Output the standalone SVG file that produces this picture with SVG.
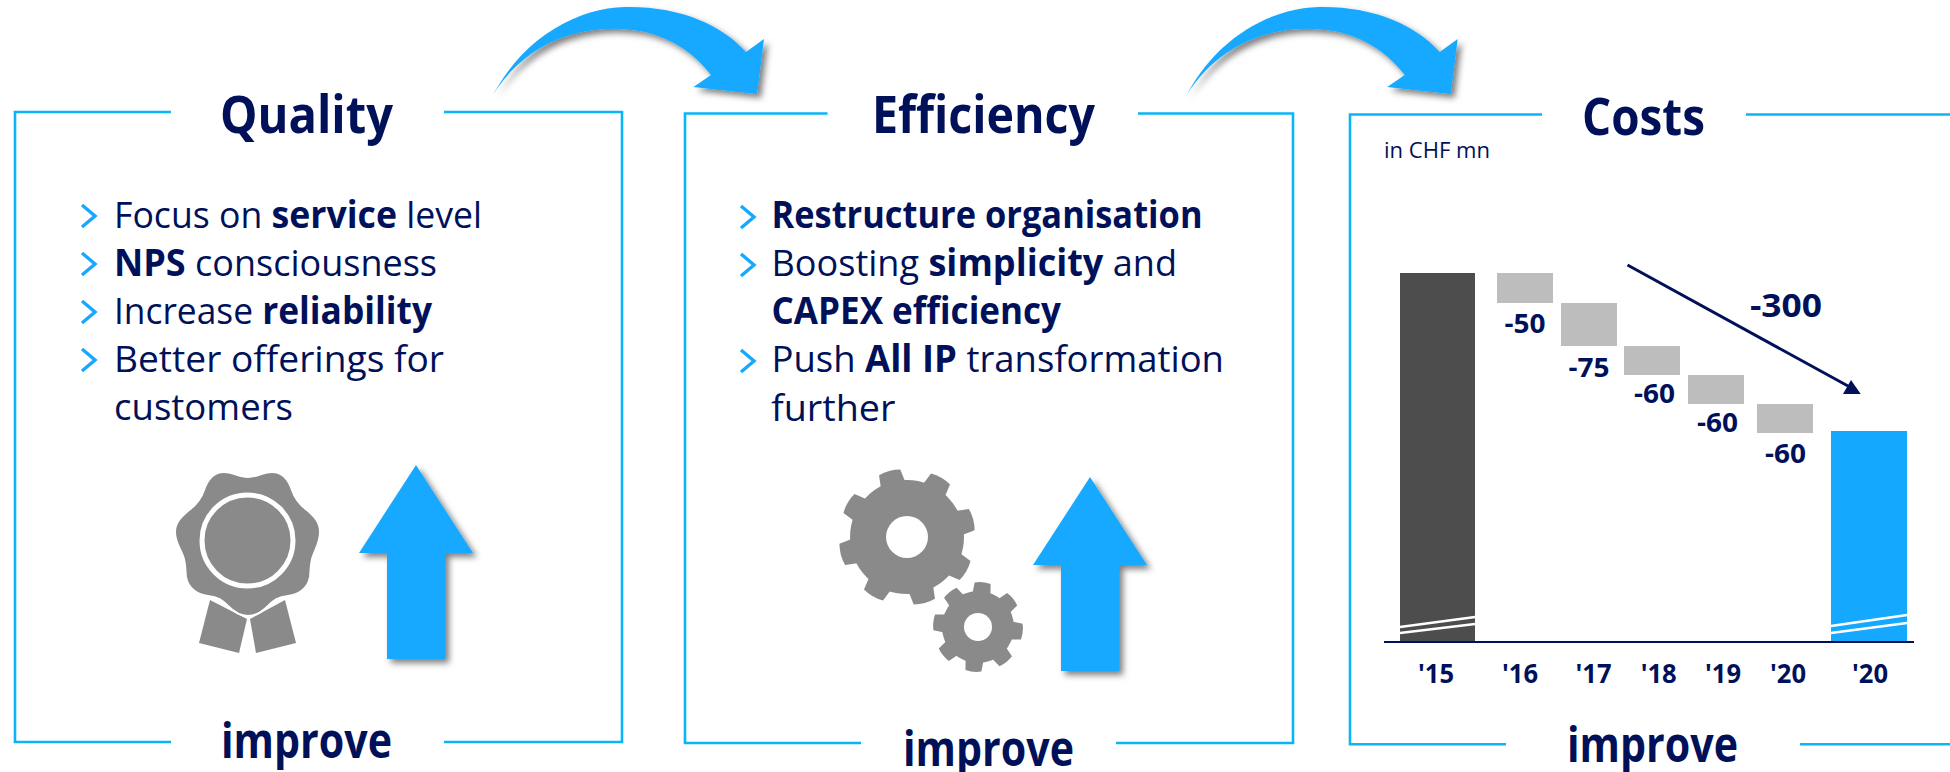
<svg xmlns="http://www.w3.org/2000/svg" width="1950" height="772" viewBox="0 0 1950 772">
<style>
text{font-family:"Open Sans","Noto Sans","Liberation Sans",sans-serif;fill:#00115a}
.t{font-size:52px;font-weight:700}
.i{font-size:48px;font-weight:700}
.b{font-size:37px}
.b tspan{font-weight:700}
.v{font-size:26.500px;font-weight:700;text-anchor:middle}
.f{fill:none;stroke:#08b5f6;stroke-width:2.600}
.c{fill:none;stroke:#16a9ff;stroke-width:3.400}
.g{fill:#8a8a8a}
.w{fill:#bdbdbd}
.k{stroke:#fff;stroke-width:2.600;fill:none}
.u{fill:#19a9ff;filter:url(#s)}
</style>
<defs>
<filter id="s" x="-20%" y="-20%" width="150%" height="150%"><feDropShadow dx="4" dy="4" stdDeviation="3" flood-color="#000" flood-opacity="0.5"/></filter>
<path id="ch" d="M0 0L13 11L0 22"/>
<path id="curve" d="M493 95C525 35 580 8 625 7C680 6 722 25 746 52L764 39L757 94L693.500 87L711 75C690 48 660 30 620 29C570 27 522 48 493 95Z"/>
<path id="up" d="M57 0L114 88H86V194H28V88H0Z"/>
<path id="t1" d="M-13-50L-11-67Q0-70 11-67L13-50Z"/>
<path id="t2" d="M-9-33L-8-44Q0-46 8-44L9-33Z"/>
</defs>
<g id="connectors">
<use href="#curve" fill="#14a9ff" filter="url(#s)"/>
<use href="#curve" x="693.700" fill="#14a9ff" filter="url(#s)"/>
</g>
<g id="quality">
<path class="f" d="M171 112H15V742H171M444 112H622V742H444"/>
<text class="t" x="220" y="133" textLength="173" lengthAdjust="spacingAndGlyphs">Quality</text>
<use class="c" href="#ch" x="82" y="205"/><use class="c" href="#ch" x="82" y="253"/><use class="c" href="#ch" x="82" y="301"/><use class="c" href="#ch" x="82" y="349"/>
<text class="b" x="114" y="228" textLength="368" lengthAdjust="spacingAndGlyphs">Focus on <tspan>service</tspan> level</text>
<text class="b" x="114" y="276" textLength="323" lengthAdjust="spacingAndGlyphs"><tspan>NPS</tspan> consciousness</text>
<text class="b" x="114" y="324" textLength="318" lengthAdjust="spacingAndGlyphs">Increase <tspan>reliability</tspan></text>
<text class="b" x="114" y="372" textLength="330" lengthAdjust="spacingAndGlyphs">Better offerings for</text>
<text class="b" x="114" y="420" textLength="179" lengthAdjust="spacingAndGlyphs">customers</text>
<g class="g">
<path d="M210 600L199 643L239 653L247 619Z"/><path d="M285 600L296 643L256 653L250 619Z"/>
<path stroke="#fff" stroke-width="2" d="M248 477C258 477 263 472 272 472C283 472 289 481 292 490C295 499 300 505 307 510C314 516 320 522 320 532C320 542 316 548 313 556C310 564 311 570 310 577C308 589 298 595 288 596C278 597 274 600 268 606C262 612 256 616 248 616C240 616 234 612 228 606C222 600 218 597 208 596C198 595 188 589 186 577C185 570 186 564 183 556C180 548 175 542 175 532C175 522 182 516 189 510C196 505 201 499 204 490C207 481 213 472 224 472C233 472 238 477 248 477Z"/>
<circle cx="247.500" cy="540.500" r="45.500" fill="none" stroke="#fff" stroke-width="5"/>
</g>
<use class="u" href="#up" x="359" y="465"/>
<text class="i" x="221" y="758" textLength="171" lengthAdjust="spacingAndGlyphs">improve</text>
</g>
<g id="efficiency">
<path class="f" d="M827.500 113.500H685V743H861M1138 113.500H1293V743H1116"/>
<text class="t" x="872" y="133" textLength="223" lengthAdjust="spacingAndGlyphs">Efficiency</text>
<use class="c" href="#ch" x="741" y="206"/><use class="c" href="#ch" x="741" y="254"/><use class="c" href="#ch" x="741" y="350"/>
<text class="b" x="771.500" y="228" textLength="431" lengthAdjust="spacingAndGlyphs"><tspan>Restructure organisation</tspan></text>
<text class="b" x="771.500" y="276" textLength="405.500" lengthAdjust="spacingAndGlyphs">Boosting <tspan>simplicity</tspan> and</text>
<text class="b" x="771.500" y="324" textLength="289.500" lengthAdjust="spacingAndGlyphs"><tspan>CAPEX efficiency</tspan></text>
<text class="b" x="771.500" y="372" textLength="452.500" lengthAdjust="spacingAndGlyphs">Push <tspan>All IP</tspan> transformation</text>
<text class="b" x="771" y="421" textLength="124.500" lengthAdjust="spacingAndGlyphs">further</text>
<g class="g" transform="translate(907 537)">
<circle r="57"/>
<g transform="rotate(-105)"><use href="#t1"/><use href="#t1" transform="rotate(45)"/><use href="#t1" transform="rotate(90)"/><use href="#t1" transform="rotate(135)"/><use href="#t1" transform="rotate(180)"/><use href="#t1" transform="rotate(225)"/><use href="#t1" transform="rotate(270)"/><use href="#t1" transform="rotate(315)"/></g>
</g>
<circle cx="907" cy="537" r="21" fill="#fff"/>
<g class="g" transform="translate(978 627)">
<circle r="36"/>
<g transform="rotate(-84)"><use href="#t2"/><use href="#t2" transform="rotate(45)"/><use href="#t2" transform="rotate(90)"/><use href="#t2" transform="rotate(135)"/><use href="#t2" transform="rotate(180)"/><use href="#t2" transform="rotate(225)"/><use href="#t2" transform="rotate(270)"/><use href="#t2" transform="rotate(315)"/></g>
</g>
<circle cx="978" cy="627" r="14" fill="#fff"/>
<use class="u" href="#up" x="1033" y="477"/>
<text class="i" x="903" y="766" textLength="171" lengthAdjust="spacingAndGlyphs">improve</text>
</g>
<g id="costs">
<path class="f" d="M1542 114.500H1350V744.300H1506M1746 114.500H1950M1800 744.300H1950"/>
<text class="t" x="1582" y="135" textLength="123" lengthAdjust="spacingAndGlyphs">Costs</text>
<text x="1384" y="158" font-size="21" textLength="106" lengthAdjust="spacingAndGlyphs">in CHF mn</text>
<rect x="1400" y="273" width="75" height="368" fill="#4d4d4d"/>
<rect class="w" x="1497" y="273" width="56" height="30"/>
<rect class="w" x="1561" y="303" width="56" height="43"/>
<rect class="w" x="1624" y="346" width="56" height="29"/>
<rect class="w" x="1688" y="375" width="56" height="29"/>
<rect class="w" x="1757" y="404" width="56" height="29"/>
<rect x="1831" y="431" width="76" height="210" fill="#14a9ff"/>
<path class="k" d="M1400 627L1475 617M1400 633L1475 624M1831 626L1907 615M1831 633L1907 623"/>
<path d="M1384 642H1914" stroke="#00115a" stroke-width="2" fill="none"/>
<path d="M1627.500 265L1848 386" stroke="#00115a" stroke-width="3" fill="none"/>
<path d="M1851 380L1843 394L1860.700 394Z" fill="#00115a"/>
<text class="v" x="1525" y="333" textLength="41" lengthAdjust="spacingAndGlyphs">-50</text>
<text class="v" x="1589" y="377" textLength="41" lengthAdjust="spacingAndGlyphs">-75</text>
<text class="v" x="1654.500" y="403" textLength="41" lengthAdjust="spacingAndGlyphs">-60</text>
<text class="v" x="1717.500" y="432" textLength="41" lengthAdjust="spacingAndGlyphs">-60</text>
<text class="v" x="1785.500" y="463" textLength="41" lengthAdjust="spacingAndGlyphs">-60</text>
<text class="v" x="1786" y="317" style="font-size:33px" textLength="72" lengthAdjust="spacingAndGlyphs">-300</text>
<text class="v" x="1436" y="683" textLength="36" lengthAdjust="spacingAndGlyphs">'15</text>
<text class="v" x="1520" y="683" textLength="36" lengthAdjust="spacingAndGlyphs">'16</text>
<text class="v" x="1593.500" y="683" textLength="36" lengthAdjust="spacingAndGlyphs">'17</text>
<text class="v" x="1658.700" y="683" textLength="36" lengthAdjust="spacingAndGlyphs">'18</text>
<text class="v" x="1723" y="683" textLength="36" lengthAdjust="spacingAndGlyphs">'19</text>
<text class="v" x="1788" y="683" textLength="36" lengthAdjust="spacingAndGlyphs">'20</text>
<text class="v" x="1870" y="683" textLength="36" lengthAdjust="spacingAndGlyphs">'20</text>
<text class="i" x="1567" y="762" textLength="171" lengthAdjust="spacingAndGlyphs">improve</text>
</g>
</svg>
